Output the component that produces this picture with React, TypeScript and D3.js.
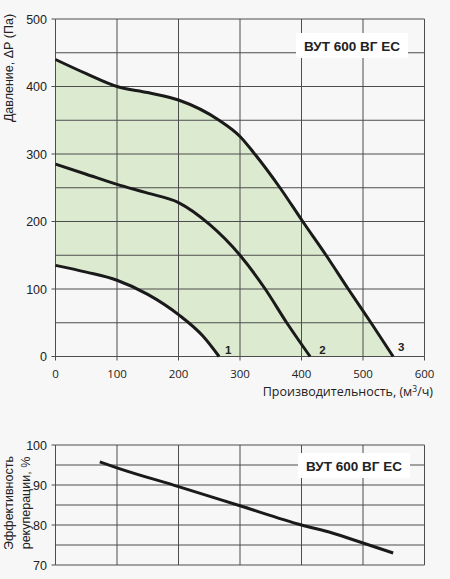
import React, { useEffect, useRef } from 'react';
import * as d3 from 'd3';

// pressure curves, [flow m3/h, pressure Pa]
const curve1: [number, number][] = [[0, 135], [50, 125], [100, 113], [150, 92], [200, 62], [240, 30], [266, 0]];
const curve2: [number, number][] = [[0, 285], [50, 270], [100, 255], [150, 242], [200, 228], [250, 196], [300, 150], [341, 100], [376, 50], [414, 0]];
const curve3: [number, number][] = [[0, 440], [50, 419], [100, 400], [150, 391], [200, 380], [266, 350], [300, 326], [324, 300], [365, 250], [402, 200], [440, 150], [476, 100], [513, 50], [549, 0]];
const curveNames = ['1', '2', '3'];

// recuperation efficiency, [flow m3/h, %]
const efficiency: [number, number][] = [[72, 95.8], [100, 94.3], [200, 89.6], [300, 84.8], [400, 80], [450, 78], [500, 75.5], [549, 73]];

const xTicks = [0, 100, 200, 300, 400, 500, 600];
const pTicks = [0, 100, 200, 300, 400, 500];
const pGrid = [50, 150, 250, 350, 450];
const eTicks = [70, 80, 90, 100];
const eGrid = [75, 85, 95];

const modelName = 'ВУТ 600 ВГ ЕС';

const W = 450;
const H = 579;
const armFont = '"Liberation Sans", Arial, sans-serif';
const openFont = '"Open Sans", "Noto Sans", sans-serif';

const App: React.FC = () => {
  const svgRef = useRef<SVGSVGElement>(null);

  useEffect(() => {
    document.body.style.margin = '0';
    if (!svgRef.current) return;
    const svg = d3.select(svgRef.current);
    svg.selectAll('*').remove();

    svg.append('rect').attr('width', W).attr('height', H).attr('fill', '#f7f7f7');

    const x = d3.scaleLinear().domain([0, 600]).range([55.5, 424.5]);
    const yP = d3.scaleLinear().domain([0, 500]).range([356.5, 19]);
    const yE = d3.scaleLinear().domain([70, 100]).range([565, 445]);

    const gridColor = '#4d4d4d';
    const smooth = d3.curveMonotoneX;

    // ---------- top chart ----------
    const top = svg.append('g');

    const lineP = d3.line<[number, number]>()
      .x(d => x(d[0]))
      .y(d => yP(d[1]))
      .curve(smooth);

    // green working area between curve 1 and curve 3
    const upper = lineP(curve3) as string;
    const lower = lineP(curve1.slice().reverse()) as string;
    top.append('path')
      .attr('d', `${upper}L${lower.slice(1)}Z`)
      .attr('fill', '#dcebd0');

    top.selectAll('.hgrid')
      .data([...pTicks, ...pGrid])
      .enter().append('line')
      .attr('x1', x(0)).attr('x2', x(600))
      .attr('y1', d => yP(d)).attr('y2', d => yP(d))
      .attr('stroke', gridColor).attr('stroke-width', 1);

    top.selectAll('.vgrid')
      .data(xTicks)
      .enter().append('line')
      .attr('x1', d => x(d)).attr('x2', d => x(d))
      .attr('y1', yP(500)).attr('y2', yP(0))
      .attr('stroke', gridColor).attr('stroke-width', 1);

    // axis ticks
    top.selectAll('.ytick')
      .data(pTicks)
      .enter().append('line')
      .attr('x1', x(0) - 4).attr('x2', x(0))
      .attr('y1', d => yP(d)).attr('y2', d => yP(d))
      .attr('stroke', gridColor);
    top.selectAll('.xtick')
      .data(xTicks)
      .enter().append('line')
      .attr('x1', d => x(d)).attr('x2', d => x(d))
      .attr('y1', yP(0)).attr('y2', yP(0) + 4)
      .attr('stroke', gridColor);

    top.selectAll('.ylab')
      .data(pTicks)
      .enter().append('text')
      .attr('x', 47).attr('y', d => yP(d) + 4.5)
      .attr('text-anchor', 'end')
      .attr('font-family', armFont).attr('font-size', 12.5)
      .attr('fill', '#222')
      .text(d => d);

    top.selectAll('.xlab')
      .data(xTicks)
      .enter().append('text')
      .attr('x', d => x(d)).attr('y', 378)
      .attr('text-anchor', 'middle')
      .attr('font-family', openFont).attr('font-size', 11.5)
      .attr('fill', '#222')
      .text(d => d);

    [curve1, curve2, curve3].forEach(c => {
      top.append('path')
        .datum(c)
        .attr('d', lineP)
        .attr('fill', 'none')
        .attr('stroke', '#1a1a1a')
        .attr('stroke-width', 3);
    });

    // curve numbers next to the curve ends
    const labelPos: [number, number][] = [[281, 4], [434, 4], [562, 8]];
    curveNames.forEach((n, i) => {
      top.append('text')
        .attr('x', x(labelPos[i][0])).attr('y', yP(labelPos[i][1]))
        .attr('text-anchor', 'middle')
        .attr('font-family', armFont).attr('font-weight', 'bold').attr('font-size', 11.5)
        .attr('fill', '#222')
        .text(n);
    });

    // model box
    top.append('rect')
      .attr('x', 296).attr('y', 33).attr('width', 112).attr('height', 25)
      .attr('fill', '#fff');
    top.append('text')
      .attr('x', 352).attr('y', 50.5)
      .attr('text-anchor', 'middle')
      .attr('font-family', armFont).attr('font-weight', 'bold').attr('font-size', 13.5)
      .attr('fill', '#222')
      .text(modelName);

    top.append('text')
      .attr('transform', 'translate(13,68) rotate(-90)')
      .attr('text-anchor', 'middle')
      .attr('font-family', armFont).attr('font-size', 12.5)
      .attr('fill', '#222')
      .text('Давление, ΔР (Па)');

    const xl = top.append('text')
      .attr('x', 433).attr('y', 396)
      .attr('text-anchor', 'end')
      .attr('font-family', openFont).attr('font-size', 12.5)
      .attr('fill', '#222');
    xl.append('tspan').text('Производительность, (м');
    xl.append('tspan').attr('dy', -4).attr('font-size', 8.5).text('3');
    xl.append('tspan').attr('dy', 4).text('/ч)');

    // ---------- bottom chart ----------
    const bot = svg.append('g');

    bot.selectAll('.hgrid')
      .data([...eTicks, ...eGrid])
      .enter().append('line')
      .attr('x1', x(0)).attr('x2', x(600))
      .attr('y1', d => yE(d)).attr('y2', d => yE(d))
      .attr('stroke', gridColor).attr('stroke-width', 1);
    bot.selectAll('.vgrid')
      .data(xTicks)
      .enter().append('line')
      .attr('x1', d => x(d)).attr('x2', d => x(d))
      .attr('y1', yE(100)).attr('y2', yE(70))
      .attr('stroke', gridColor).attr('stroke-width', 1);
    bot.selectAll('.ytick')
      .data(eTicks)
      .enter().append('line')
      .attr('x1', x(0) - 4).attr('x2', x(0))
      .attr('y1', d => yE(d)).attr('y2', d => yE(d))
      .attr('stroke', gridColor);
    bot.selectAll('.ylab')
      .data(eTicks)
      .enter().append('text')
      .attr('x', 47).attr('y', d => yE(d) + 4.5)
      .attr('text-anchor', 'end')
      .attr('font-family', armFont).attr('font-size', 12.5)
      .attr('fill', '#222')
      .text(d => d);

    bot.append('path')
      .datum(efficiency)
      .attr('d', d3.line<[number, number]>()
        .x(d => x(d[0]))
        .y(d => yE(d[1]))
        .curve(smooth))
      .attr('fill', 'none')
      .attr('stroke', '#1a1a1a')
      .attr('stroke-width', 3);

    bot.append('rect')
      .attr('x', 298).attr('y', 453).attr('width', 112).attr('height', 25)
      .attr('fill', '#fff');
    bot.append('text')
      .attr('x', 354).attr('y', 470.5)
      .attr('text-anchor', 'middle')
      .attr('font-family', armFont).attr('font-weight', 'bold').attr('font-size', 13.5)
      .attr('fill', '#222')
      .text(modelName);

    const el = bot.append('text')
      .attr('transform', 'translate(13,503) rotate(-90)')
      .attr('text-anchor', 'middle')
      .attr('font-family', armFont).attr('font-size', 12.5)
      .attr('fill', '#222');
    el.append('tspan').attr('x', 0).attr('dy', 0).text('Эффективность');
    el.append('tspan').attr('x', 0).attr('dy', 17).text('рекуперации, %');
  }, []);

  return <svg ref={svgRef} width={W} height={H} style={{ display: 'block' }} />;
};

export default App;
